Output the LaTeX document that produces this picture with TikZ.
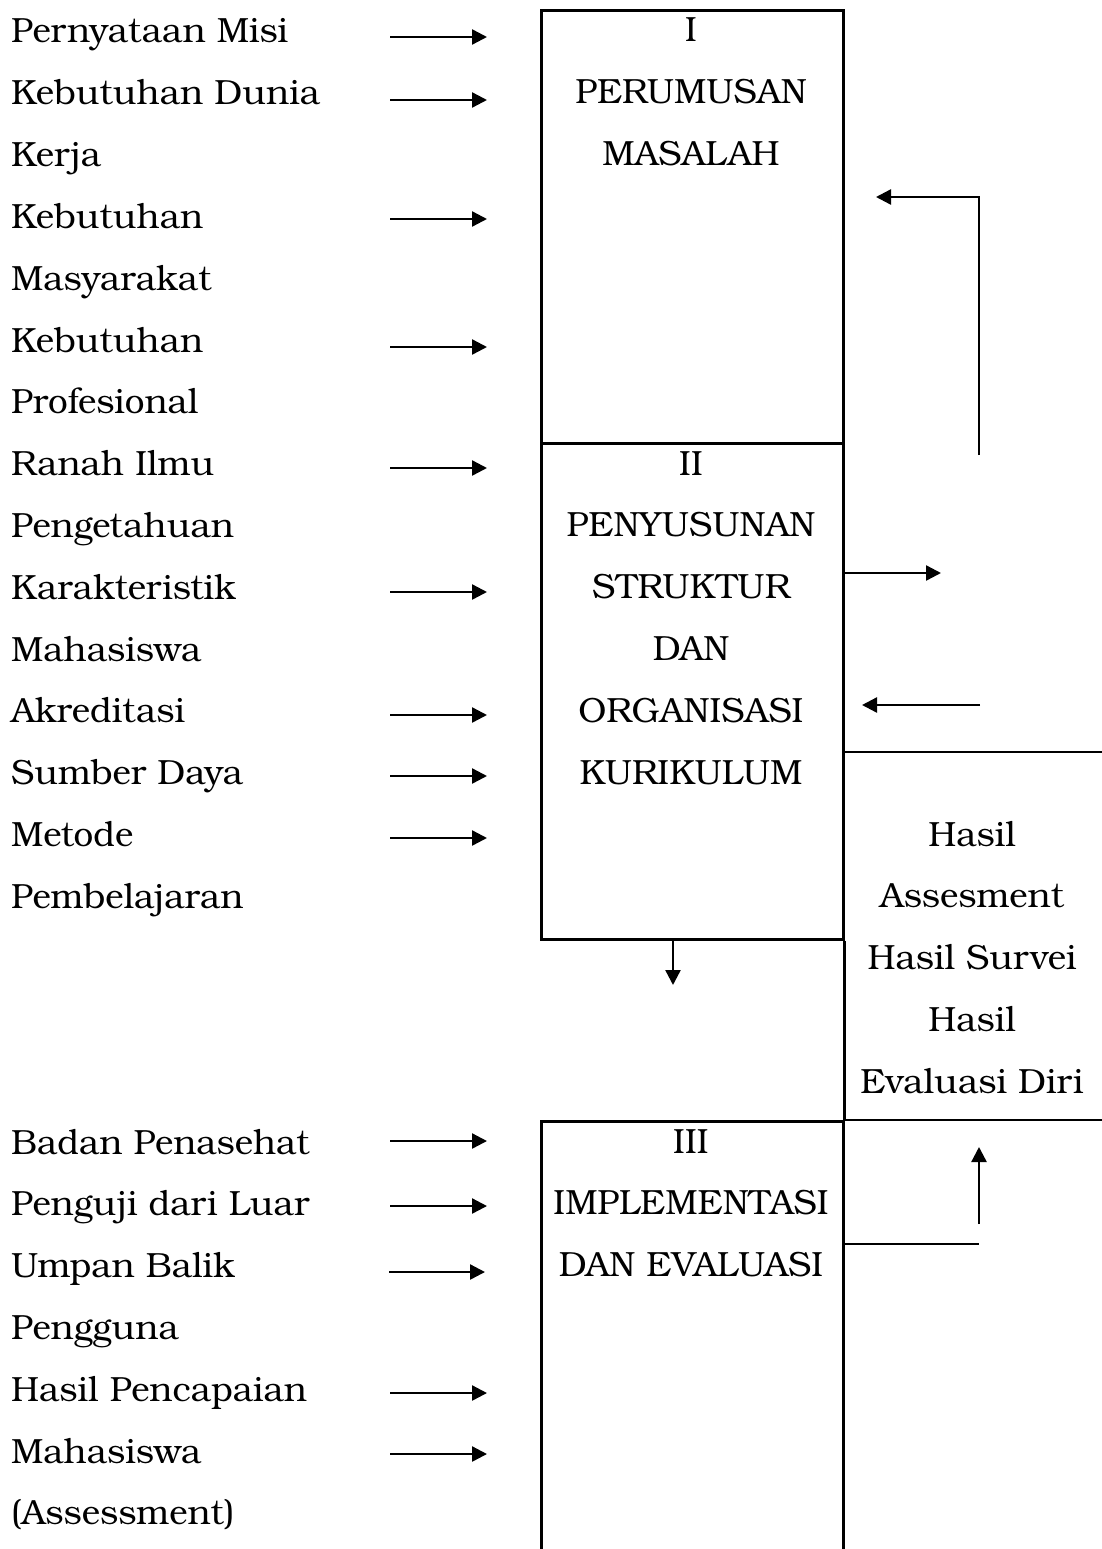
\documentclass[tikz,border=0pt]{standalone}
\usepackage{fontspec}
\setmainfont{texgyrebonum-regular.otf}
\usetikzlibrary{arrows.meta}

\tikzset{
  txt/.style={font=\fontsize{35}{61.8}\selectfont, inner sep=0pt},
  lft/.style={txt, anchor=base west, align=left},
  mid/.style={txt, anchor=base, align=center},
  frame/.style={line width=2.8pt},
  arr/.style={line width=2.4pt, -{Triangle[length=15pt,width=15pt]}},
  ln/.style={line width=2.4pt},
}

\begin{document}
\begin{tikzpicture}[x=1pt, y=-1pt]
\useasboundingbox (0,0) rectangle (1102,1549);
\clip (0,0) rectangle (1102,1549);

% the three stages (text placed by its last line)
\node[frame, draw, minimum width=302, minimum height=433, anchor=north west] (box1) at (540,9) {};
\node[frame, draw, minimum width=302, minimum height=496, anchor=north west] (box2) at (540,442) {};
\node[frame, draw, minimum width=302, minimum height=460, anchor=north west] (box3) at (540,1120) {};
\node[mid] (judul1) at (691,165.6)  {I\\PERUMUSAN\\MASALAH};
\node[mid] (judul2) at (691,784)    {II\\PENYUSUNAN\\STRUKTUR\\DAN\\ORGANISASI\\KURIKULUM};
\node[mid] (judul3) at (691,1276.6) {III\\IMPLEMENTASI\\DAN EVALUASI};

% kolom kanan
\coordinate (k1) at (1102,752);
\coordinate (k2) at (1102,1120);
\draw[frame] (box2.east |- k1) -- (k1);
\draw[frame] (box2.south east) -- (box3.north east) -- (k2);
\node[mid] (hasil) at (972,1093.2) {Hasil\\Assesment\\Hasil Survei\\Hasil\\Evaluasi Diri};

% masukan tahap I dan II
\node[lft] (m1) at (11,43)    {Pernyataan Misi};
\node[lft] (m2) at (11,166.6) {Kebutuhan Dunia\\Kerja};
\node[lft] (m3) at (11,290.2) {Kebutuhan\\Masyarakat};
\node[lft] (m4) at (11,413.8) {Kebutuhan\\Profesional};
\node[lft] (m5) at (11,537.4) {Ranah Ilmu\\Pengetahuan};
\node[lft] (m6) at (11,661)   {Karakteristik\\Mahasiswa};
\node[lft] (m7) at (11,722.8) {Akreditasi};
\node[lft] (m8) at (11,784.6) {Sumber Daya};
\node[lft] (m9) at (11,908.2) {Metode\\Pembelajaran};

\coordinate (a1) at (390,37);  \coordinate (b1) at (487,37);  \draw[arr] (a1) -- (b1);
\coordinate (a2) at (390,100); \coordinate (b2) at (487,100); \draw[arr] (a2) -- (b2);
\coordinate (a3) at (390,219); \coordinate (b3) at (487,219); \draw[arr] (a3) -- (b3);
\coordinate (a4) at (390,347); \coordinate (b4) at (487,347); \draw[arr] (a4) -- (b4);
\coordinate (a5) at (390,468); \coordinate (b5) at (487,468); \draw[arr] (a5) -- (b5);
\coordinate (a6) at (390,592); \coordinate (b6) at (487,592); \draw[arr] (a6) -- (b6);
\coordinate (a7) at (390,715); \coordinate (b7) at (487,715); \draw[arr] (a7) -- (b7);
\coordinate (a8) at (390,776); \coordinate (b8) at (487,776); \draw[arr] (a8) -- (b8);
\coordinate (a9) at (390,838); \coordinate (b9) at (487,838); \draw[arr] (a9) -- (b9);

% masukan tahap III
\node[lft] (n1) at (11,1154)   {Badan Penasehat};
\node[lft] (n2) at (11,1215.8) {Penguji dari Luar};
\node[lft] (n3) at (11,1339.4) {Umpan Balik\\Pengguna};
\node[lft] (n4) at (11,1524.8) {Hasil Pencapaian\\Mahasiswa\\(Assessment)};

\coordinate (c1) at (390,1141); \coordinate (d1) at (487,1141); \draw[arr] (c1) -- (d1);
\coordinate (c2) at (390,1206); \coordinate (d2) at (487,1206); \draw[arr] (c2) -- (d2);
\coordinate (c3) at (389,1272); \coordinate (d3) at (485,1272); \draw[arr] (c3) -- (d3);
\coordinate (c4) at (390,1393); \coordinate (d4) at (487,1393); \draw[arr] (c4) -- (d4);
\coordinate (c5) at (390,1454); \coordinate (d5) at (487,1454); \draw[arr] (c5) -- (d5);

% umpan balik
\coordinate (f1) at (979,455);
\coordinate (f2) at (876,197);
\draw[arr] (f1) |- (f2);
\coordinate (g1) at (941,573);
\draw[arr] (box2.east |- g1) -- (g1);
\coordinate (h1) at (980,705);
\coordinate (h2) at (862,705);
\draw[arr] (h1) -- (h2);
\coordinate (p1) at (673,985);
\draw[arr] (box2.south -| p1) -- (p1);
\coordinate (q1) at (979,1244);
\coordinate (q2) at (979,1224);
\coordinate (q3) at (979,1147);
\draw[ln] (box3.east |- q1) -- (q1);
\draw[arr] (q2) -- (q3);
\end{tikzpicture}
\end{document}
